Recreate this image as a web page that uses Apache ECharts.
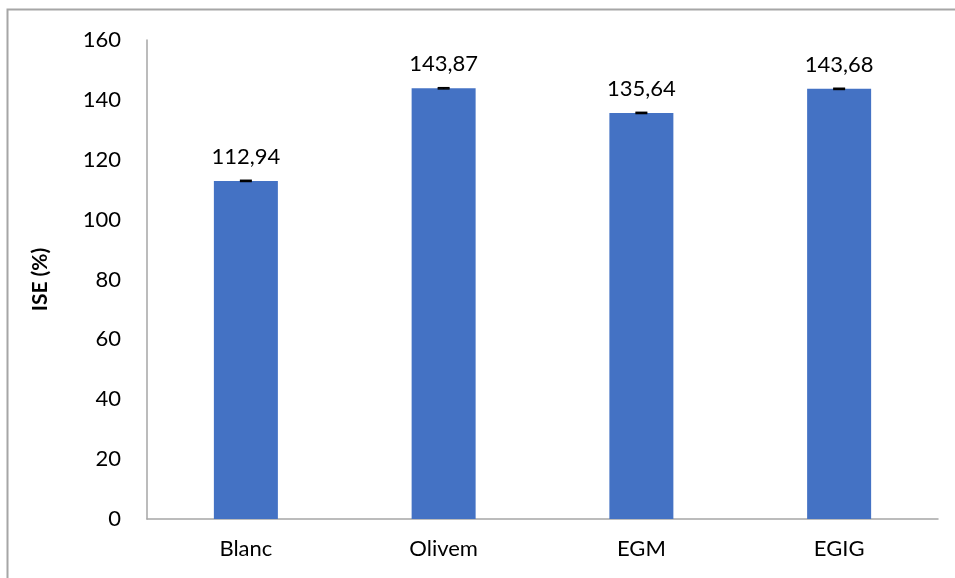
<!DOCTYPE html>
<html>
<head>
<meta charset="utf-8">
<script src="https://cdn.jsdelivr.net/npm/echarts@6/dist/echarts.min.js"></script>
<style>
  html, body { margin: 0; padding: 0; background: #fff; }
  #chart { width: 955px; height: 578px; }
</style>
</head>
<body>
<div id="chart"></div>
<script>
const categories = ["Blanc", "Olivem", "EGM", "EGIG"];
const iseValues = [112.94, 143.87, 135.64, 143.68];
const iseErrors = [0.2, 0.2, 0.2, 0.2];
const yTicks = [0, 20, 40, 60, 80, 100, 120, 140, 160];

const myChart = echarts.init(document.getElementById("chart"));
const font = "Lato, 'Open Sans', sans-serif";

myChart.setOption({
  animation: false,
  textStyle: { fontFamily: font },
  graphic: [
    {
      type: "polyline",
      shape: { points: [[7.5, 600], [7.5, 9.5], [980, 9.5]] },
      style: { stroke: "#a6a6a6", lineWidth: 2, fill: null },
      silent: true
    }
  ],
  grid: { left: 147, right: 17, top: 40, bottom: 59 },
  xAxis: {
    type: "category",
    data: categories,
    axisLine: { lineStyle: { color: "#a6a6a6", width: 1.5 } },
    axisTick: { show: false },
    axisLabel: { color: "#000", fontSize: 22, fontFamily: font, margin: 19 }
  },
  yAxis: {
    type: "value",
    min: yTicks[0],
    max: yTicks[yTicks.length - 1],
    interval: 20,
    name: "ISE (%)",
    nameLocation: "middle",
    nameGap: 96,
    nameTextStyle: { color: "#000", fontSize: 21, fontWeight: "bold", fontFamily: font },
    axisLine: { show: true, lineStyle: { color: "#a6a6a6", width: 1.5 } },
    axisTick: { show: false },
    splitLine: { show: false },
    axisLabel: { color: "#000", fontSize: 22, fontFamily: font, margin: 26 }
  },
  series: [
    {
      type: "bar",
      data: iseValues,
      barWidth: 64,
      itemStyle: { color: "#4472c4" },
      label: {
        show: true,
        position: "top",
        distance: 13,
        color: "#000",
        fontSize: 22,
        fontFamily: font,
        formatter: p => p.value.toFixed(2).replace(".", ",")
      },
      z: 2
    },
    {
      type: "custom",
      data: iseValues.map((v, i) => [i, v - iseErrors[i], v + iseErrors[i]]),
      z: 3,
      renderItem: (params, api) => {
        const lo = api.coord([api.value(0), api.value(1)]);
        const hi = api.coord([api.value(0), api.value(2)]);
        const half = 6;
        const style = { stroke: "#000", lineWidth: 1.5 };
        return {
          type: "group",
          children: [
            { type: "line", shape: { x1: hi[0], y1: hi[1], x2: lo[0], y2: lo[1] }, style },
            { type: "line", shape: { x1: hi[0] - half, y1: hi[1], x2: hi[0] + half, y2: hi[1] }, style },
            { type: "line", shape: { x1: lo[0] - half, y1: lo[1], x2: lo[0] + half, y2: lo[1] }, style }
          ]
        };
      }
    }
  ]
});
</script>
</body>
</html>
